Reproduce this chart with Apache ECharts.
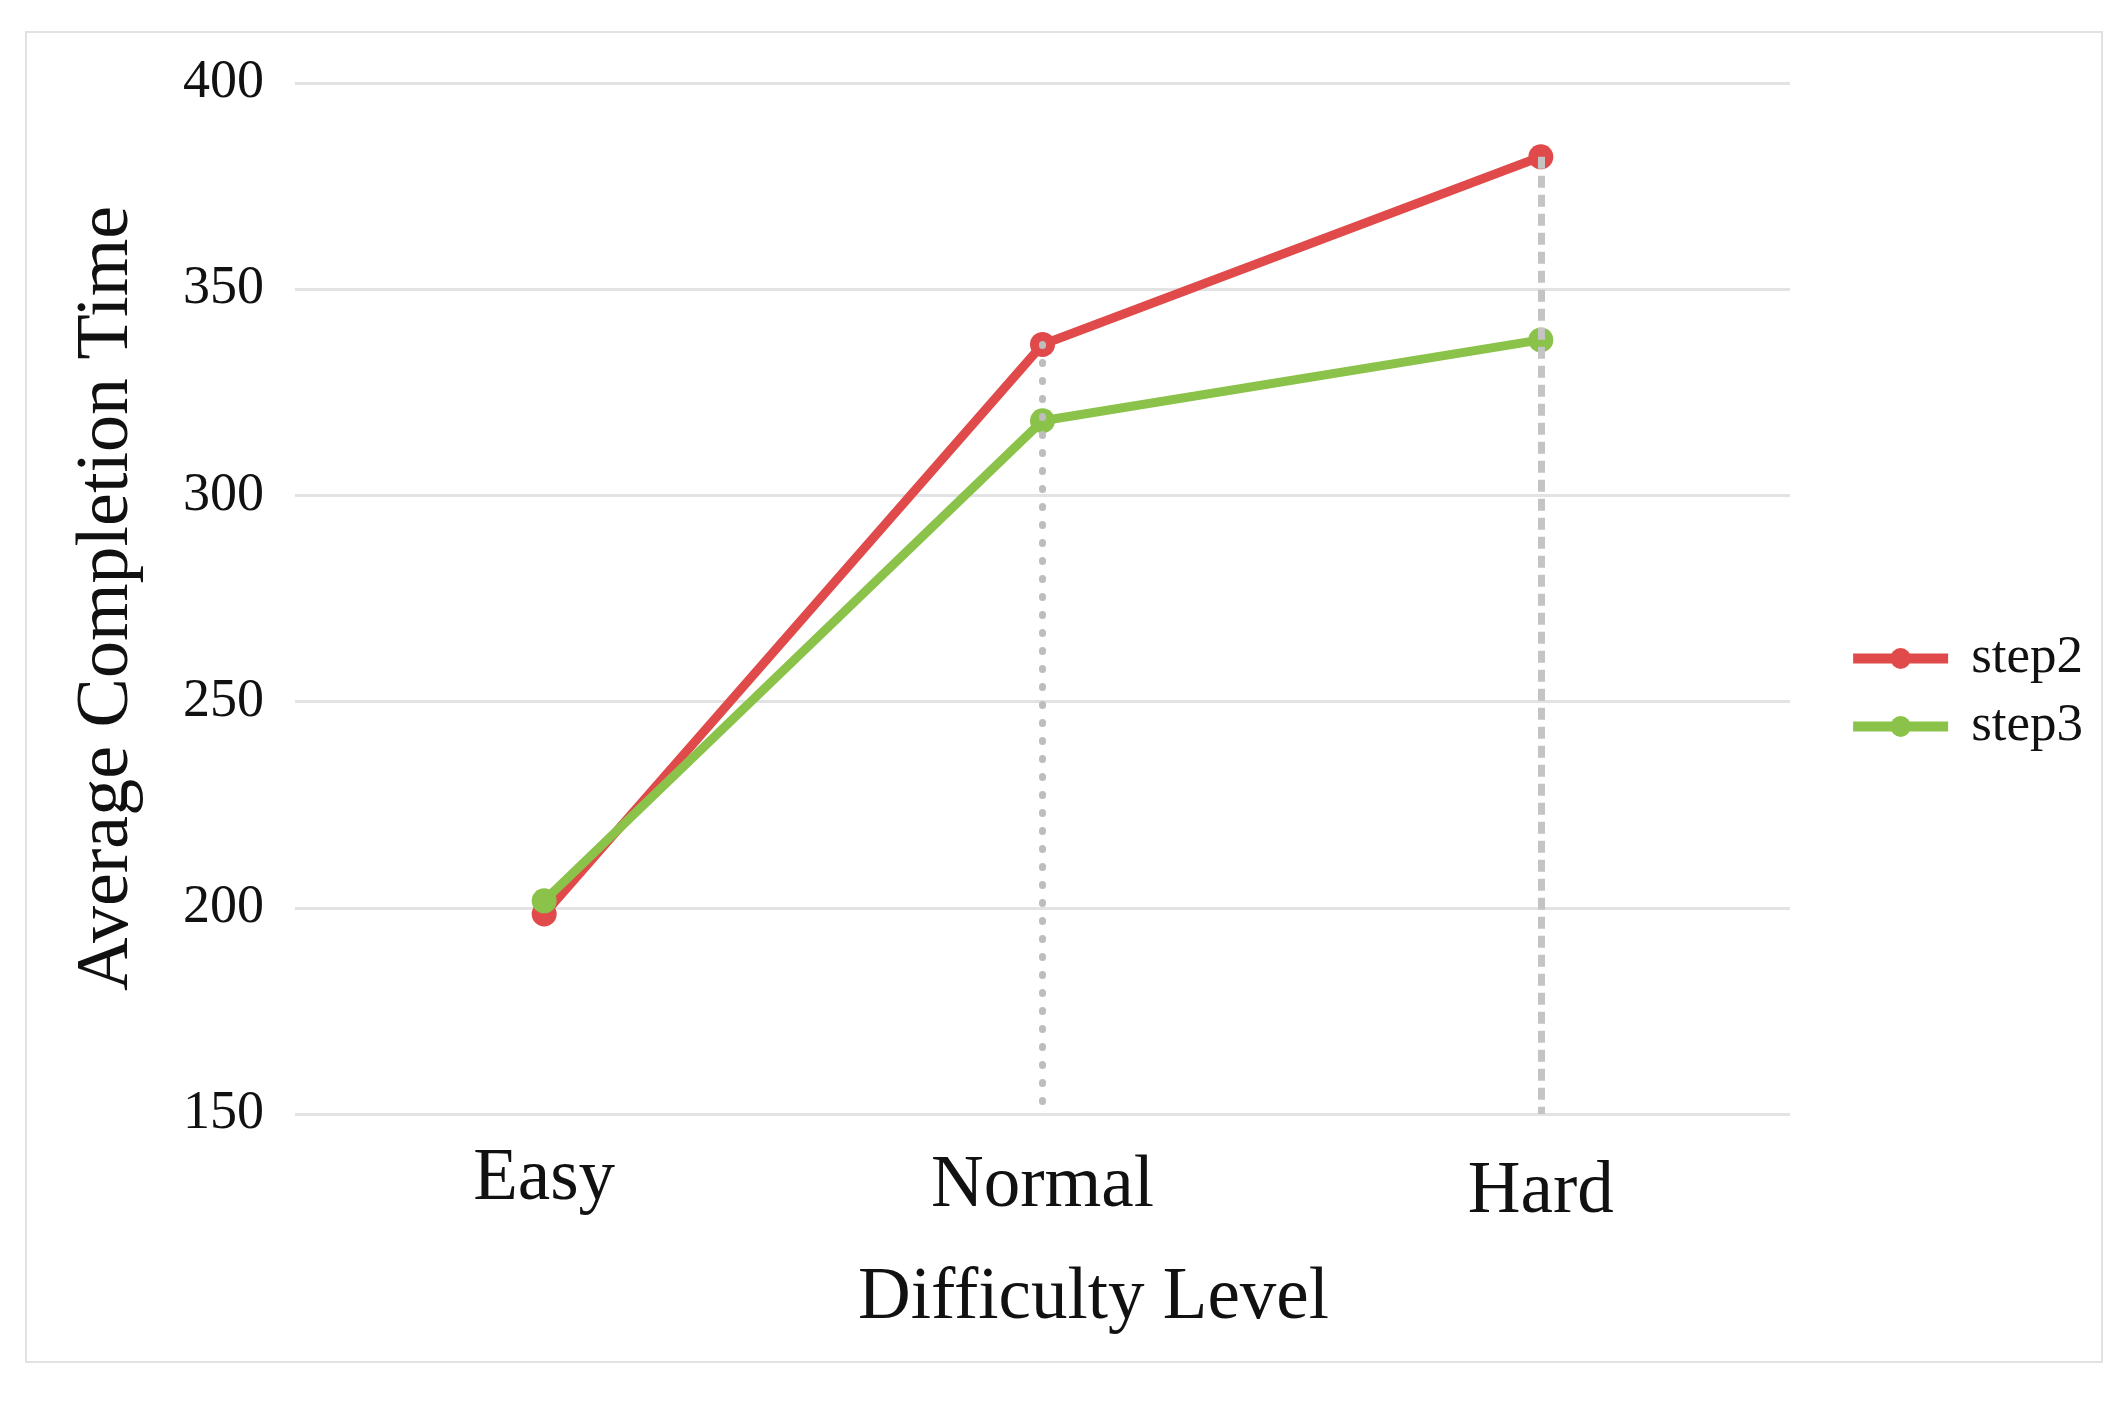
<!DOCTYPE html>
<html>
<head>
<meta charset="utf-8">
<script src="https://cdn.jsdelivr.net/npm/echarts@6/dist/echarts.min.js"></script>
<style>
html,body{margin:0;padding:0;background:#fff;}
#chart{width:2124px;height:1404px;}
</style>
</head>
<body>
<div id="chart"></div>
<script>
var categories = ['Easy', 'Normal', 'Hard'];
var step2 = [198.5, 336.6, 382.1];
var step3 = [201.7, 318.1, 337.7];
var yTicks = [150, 200, 250, 300, 350, 400];
var seriesNames = ['step2', 'step3'];

var FONT = '"Liberation Serif", "Times New Roman", serif';
var RED = '#e04a4a';
var GREEN = '#8bc34a';
var yMin = yTicks[0], yMax = yTicks[yTicks.length - 1];

var chart = echarts.init(document.getElementById('chart'), null, {renderer: 'canvas'});
var labelPad = [0, 7, 13];

chart.setOption({
  backgroundColor: '#fff',
  animation: false,
  graphic: [{
    type: 'rect',
    shape: {x: 26, y: 32, width: 2076, height: 1330},
    style: {fill: 'none', stroke: '#e2e2e2', lineWidth: 2},
    silent: true
  }],
  grid: {left: 295, right: 334, top: 83, bottom: 290, containLabel: false},
  legend: {
    orient: 'vertical',
    right: 36,
    top: 627,
    itemWidth: 95,
    itemHeight: 26,
    itemGap: 15,
    data: seriesNames,
    textStyle: {fontFamily: FONT, fontSize: 53, color: '#111', padding: [0, 0, 0, 18]},
    lineStyle: {width: 10}
  },
  xAxis: {
    type: 'category',
    data: categories.map(function (c, i) {
      return {value: c, textStyle: {padding: [labelPad[i], 0, 0, 0]}};
    }),
    boundaryGap: true,
    axisLine: {show: false},
    axisTick: {show: false},
    splitLine: {show: false},
    axisLabel: {fontFamily: FONT, fontSize: 73, color: '#111', margin: 29},
    name: 'Difficulty Level',
    nameLocation: 'middle',
    nameGap: 148,
    nameTextStyle: {fontFamily: FONT, fontSize: 73, color: '#111', padding: [0, 0, 0, 102]}
  },
  yAxis: {
    type: 'value',
    min: yMin,
    max: yMax,
    interval: 50,
    axisLine: {show: false},
    axisTick: {show: false},
    splitLine: {lineStyle: {color: '#e3e3e3', width: 3}},
    axisLabel: {fontFamily: FONT, fontSize: 54, color: '#111', margin: 31, padding: [10, 0, 0, 0]},
    name: 'Average Completion Time',
    nameLocation: 'middle',
    nameGap: 150,
    nameTextStyle: {fontFamily: FONT, fontSize: 74, color: '#111'}
  },
  series: [{
    name: seriesNames[0],
    type: 'line',
    data: step2,
    symbol: 'circle',
    symbolSize: 25,
    itemStyle: {color: RED},
    lineStyle: {color: RED, width: 9},
    markLine: {
      silent: true,
      symbol: 'none',
      label: {show: false},
      z: 5,
      data: [
        [{coord: [categories[1], step2[1]], lineStyle: {color: '#bdbdbd', width: 7, type: [1, 17], cap: 'round'}},
         {coord: [categories[1], yMin]}],
        [{coord: [categories[2], step2[2]], lineStyle: {color: '#c4c4c4', width: 7, type: [12, 7], cap: 'butt'}},
         {coord: [categories[2], yMin]}]
      ]
    }
  }, {
    name: seriesNames[1],
    type: 'line',
    data: step3,
    symbol: 'circle',
    symbolSize: 25,
    itemStyle: {color: GREEN},
    lineStyle: {color: GREEN, width: 9}
  }]
});
</script>
</body>
</html>
